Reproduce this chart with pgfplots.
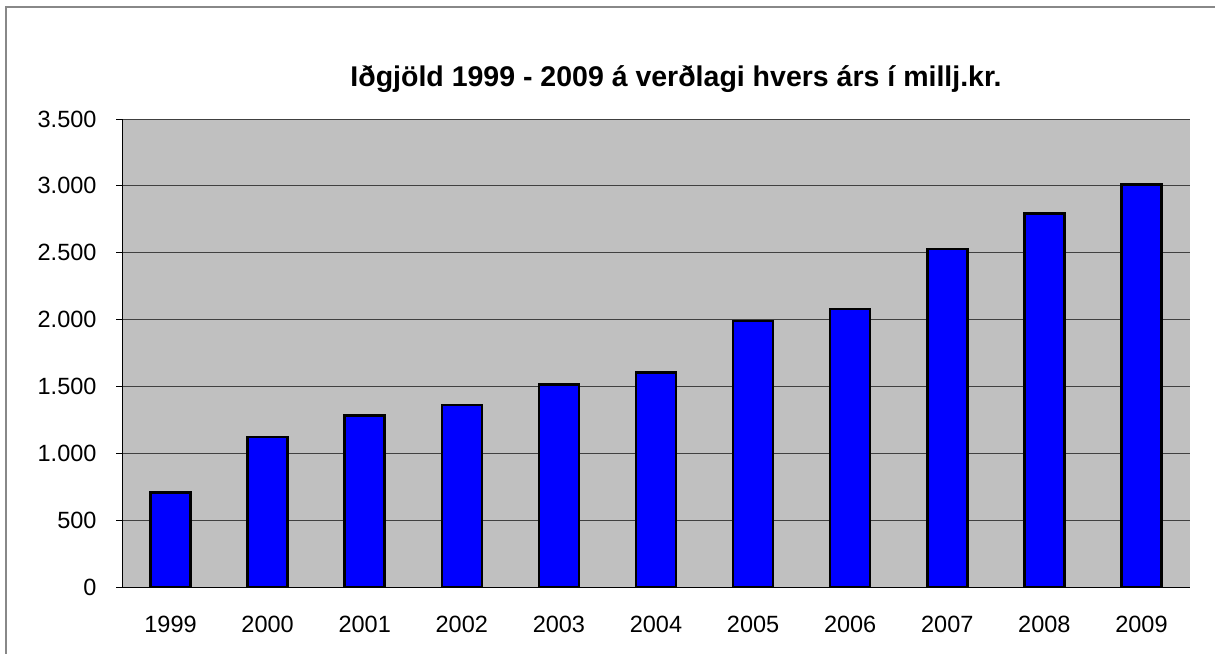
\documentclass[border=0pt]{standalone}
\usepackage{pgfplots}
\pgfplotsset{compat=1.18}
\usepackage{fontspec}
\setmainfont{Liberation Sans}
\definecolor{plotbg}{HTML}{C0C0C0}
\definecolor{barblue}{HTML}{0000FF}
\definecolor{gridc}{HTML}{404040}
\definecolor{framec}{HTML}{888888}
\begin{document}
\begin{tikzpicture}[x=1pt,y=1pt]
\useasboundingbox (-122,-66) rectangle (1093,587);
\draw[framec, line width=2pt] (-116,-80) -- (-116,580) -- (1100,580);
\begin{axis}[
  at={(0,0)}, anchor=south west,
  scale only axis, width=1068pt, height=468pt,
  clip=false,
  xmin=-0.5, xmax=10.5, ymin=0, ymax=3500,
  axis background/.style={fill=plotbg},
  axis x line*=bottom, axis y line*=left,
  axis line style={black, line width=0.8pt},
  ybar, bar width=40pt,
  xtick={0,...,10},
  xticklabels={1999,2000,2001,2002,2003,2004,2005,2006,2007,2008,2009},
  major x tick style={draw=none},
  extra x ticks={-0.5,0.5,...,10.5},
  extra x tick labels={},
  extra x tick style={tick style={draw=gridc, line width=0.8pt}},
  ytick distance=500,
  tick align=outside,
  major tick length=6pt,
  ytick style={draw=black, line width=0.8pt},
  ymajorgrids,
  grid style={gridc, line width=0.9pt},
  /pgf/number format/.cd, 1000 sep={.}, assume math mode=true,
  /pgfplots/.cd,
  tick label style={font=\fontsize{23.5}{28}\selectfont},
  xticklabel style={anchor=base, yshift=-39pt},
  yticklabel style={anchor=east, xshift=-16pt},
]
\addplot[fill=barblue, draw=black, line width=2.6pt] coordinates {
(0,705) (1,1122) (2,1282) (3,1360) (4,1516) (5,1602) (6,1988) (7,2078) (8,2527) (9,2793) (10,3008)
};
\node[anchor=base, font=\fontsize{28.5}{33}\selectfont\bfseries] at (rel axis cs:0.5187,1) [yshift=32pt] {Iðgjöld 1999 - 2009 á verðlagi hvers árs í millj.kr.};
\end{axis}
\end{tikzpicture}
\end{document}
